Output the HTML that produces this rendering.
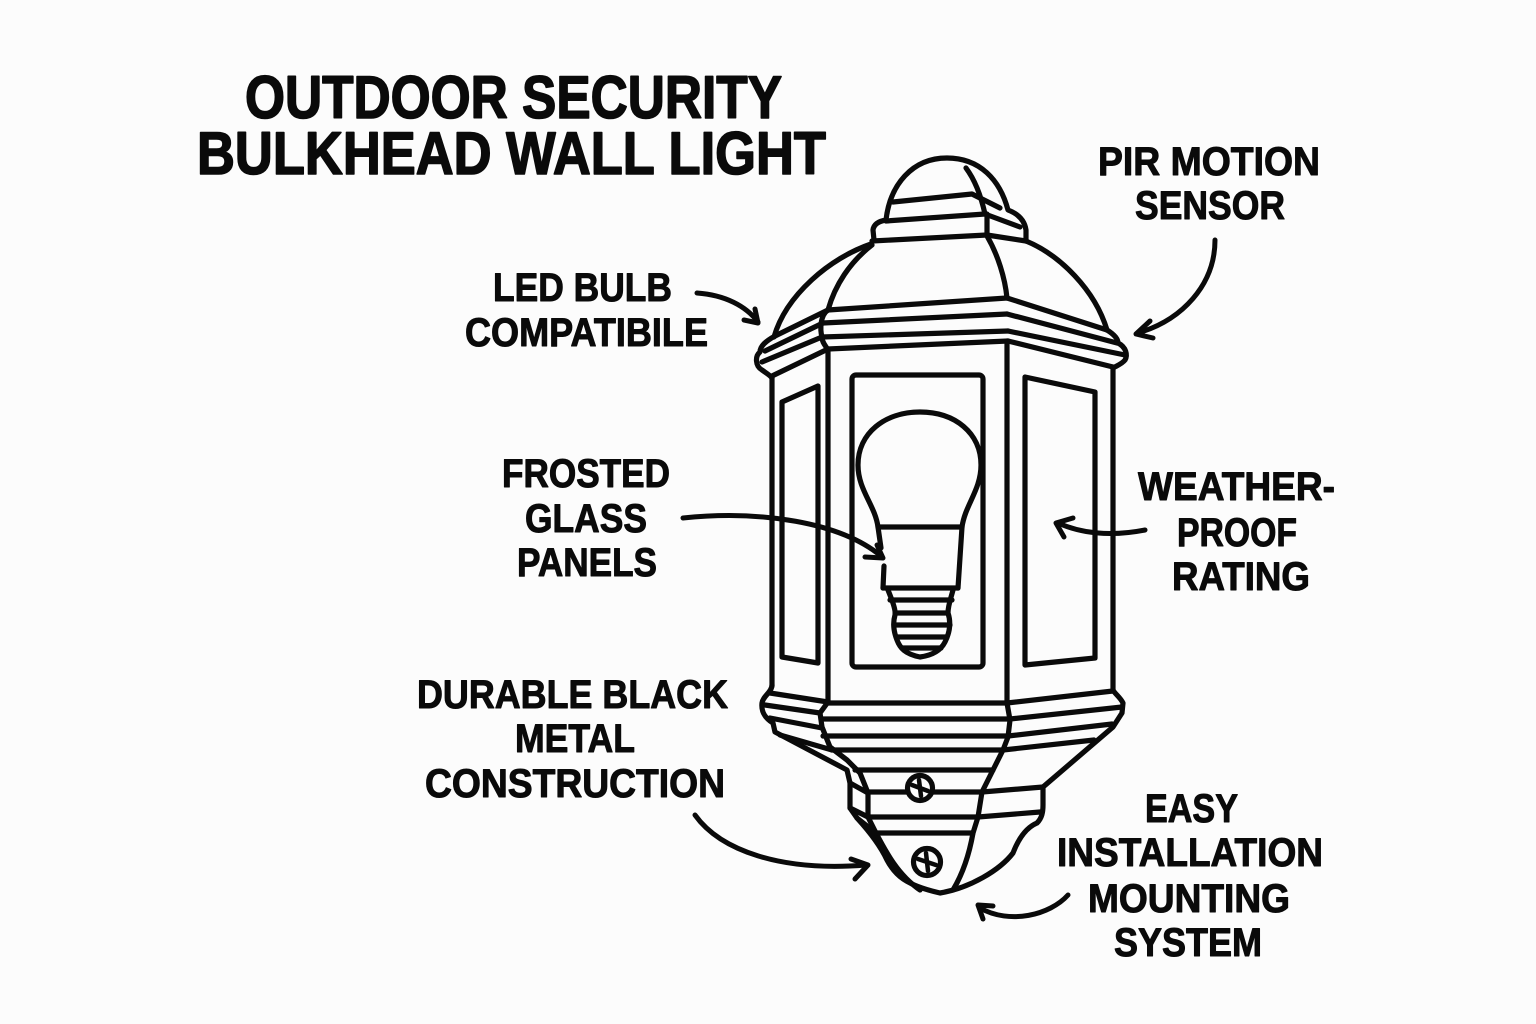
<!DOCTYPE html>
<html>
<head>
<meta charset="utf-8">
<style>
  html, body { margin: 0; padding: 0; background: #fcfcfc; }
  body { width: 1536px; height: 1024px; overflow: hidden; }
  svg { display: block; }
  .t { font-family: "Liberation Sans", "DejaVu Sans", sans-serif; font-weight: bold; fill: #0a0a0a; stroke: #0a0a0a; stroke-linejoin: round; }
</style>
</head>
<body>
<svg width="1536" height="1024" viewBox="0 0 1536 1024" xmlns="http://www.w3.org/2000/svg">
  <rect width="1536" height="1024" fill="#fcfcfc"/>

  <!-- Title -->
  <g class="t" stroke-width="1.6">
    <text x="245" y="118" font-size="60" textLength="537" lengthAdjust="spacingAndGlyphs">OUTDOOR SECURITY</text>
    <text x="197" y="174" font-size="60" textLength="629" lengthAdjust="spacingAndGlyphs">BULKHEAD WALL LIGHT</text>
  </g>

  <!-- Labels -->
  <g class="t" font-size="40" stroke-width="1">
    <text x="1098" y="175" textLength="222" lengthAdjust="spacingAndGlyphs">PIR MOTION</text>
    <text x="1135" y="219" textLength="150" lengthAdjust="spacingAndGlyphs">SENSOR</text>

    <text x="493" y="301" textLength="179" lengthAdjust="spacingAndGlyphs">LED BULB</text>
    <text x="465" y="346" textLength="243" lengthAdjust="spacingAndGlyphs">COMPATIBILE</text>

    <text x="502" y="487" textLength="168" lengthAdjust="spacingAndGlyphs">FROSTED</text>
    <text x="525" y="532" textLength="122" lengthAdjust="spacingAndGlyphs">GLASS</text>
    <text x="517" y="576" textLength="140" lengthAdjust="spacingAndGlyphs">PANELS</text>

    <text x="1138" y="500" textLength="197" lengthAdjust="spacingAndGlyphs">WEATHER-</text>
    <text x="1177" y="546" textLength="120" lengthAdjust="spacingAndGlyphs">PROOF</text>
    <text x="1172" y="590" textLength="138" lengthAdjust="spacingAndGlyphs">RATING</text>

    <text x="417" y="708" textLength="311" lengthAdjust="spacingAndGlyphs">DURABLE BLACK</text>
    <text x="515" y="752" textLength="120" lengthAdjust="spacingAndGlyphs">METAL</text>
    <text x="425" y="797" textLength="300" lengthAdjust="spacingAndGlyphs">CONSTRUCTION</text>

    <text x="1145" y="822" textLength="93" lengthAdjust="spacingAndGlyphs">EASY</text>
    <text x="1057" y="866" textLength="266" lengthAdjust="spacingAndGlyphs">INSTALLATION</text>
    <text x="1088" y="912" textLength="202" lengthAdjust="spacingAndGlyphs">MOUNTING</text>
    <text x="1114" y="956" textLength="148" lengthAdjust="spacingAndGlyphs">SYSTEM</text>
  </g>

  <!-- Lamp drawing -->
  <g fill="none" stroke="#0a0a0a" stroke-width="5.2" stroke-linecap="round" stroke-linejoin="round">
    <!-- Finial cap -->
    <path d="M 874 240 L 873 230 Q 874 222 886 220 C 890 185 912 158 947 158 C 980 158 1000 180 1008 210 Q 1024 216 1026 230 L 1026 241"/>
    <path d="M 966 168 C 975 180 981 196 985 214"/>
    <path d="M 893 202 L 972 194 L 1000 208"/>
    <path d="M 886 221 L 985 214 L 1020 227"/>
    <path d="M 987 214 L 987 235"/>
    <path d="M 872 241 L 987 235 L 1026 241"/>

    <!-- Main dome -->
    <path d="M 871 244 C 830 258 786 295 774 337"/>
    <path d="M 872 245 C 850 262 835 285 828 310"/>
    <path d="M 987 236 C 998 255 1005 278 1007 298"/>
    <path d="M 1026 241 C 1060 255 1095 290 1107 330"/>

    <!-- Upper cornice front -->
    <path d="M 828 310 L 1007 298"/>
    <path d="M 823 323 L 1007 314"/>
    <path d="M 822 337 L 1008 331"/>
    <path d="M 828 349 L 1008 341"/>
    <path d="M 828 310 C 820 315 820 330 822 337 C 822 343 826 346 828 350"/>
    <!-- Upper cornice left -->
    <path d="M 828 310 L 775 336"/>
    <path d="M 823 323 L 765 351"/>
    <path d="M 822 337 L 762 362"/>
    <path d="M 828 349 L 772 376"/>
    <path d="M 775 336 C 766 341 760 346 760 352 C 755 356 755 366 762 370 C 766 373 770 375 772 378"/>
    <!-- Upper cornice right -->
    <path d="M 1007 298 L 1107 330"/>
    <path d="M 1007 314 L 1117 343"/>
    <path d="M 1008 331 L 1125 355"/>
    <path d="M 1008 341 L 1113 367"/>
    <path d="M 1107 330 C 1115 335 1118 339 1118 343 C 1126 347 1128 355 1125 360 C 1122 364 1116 366 1113 368"/>

    <!-- Body verticals -->
    <path d="M 772 377 L 772 686"/>
    <path d="M 828 350 L 828 702"/>
    <path d="M 1007 341 L 1007 703"/>
    <path d="M 1113 367 L 1113 690"/>

    <!-- Panels -->
    <path d="M 782 402 L 818 386 L 818 663 L 782 657 Z"/>
    <rect x="852" y="375" width="131" height="292" rx="4"/>
    <path d="M 1025 377 L 1095 392 L 1095 658 L 1025 665 Z"/>

    <!-- Bulb -->
    <path d="M 878 527 C 875 505 858 490 858 465 C 858 433 885 412 920 412 C 955 412 981 433 981 465 C 981 490 965 505 962 527"/>
    <path d="M 878 527 L 962 527"/>
    <path d="M 878 527 L 881 548"/>
    <path d="M 884 566 L 883 588"/>
    <path d="M 962 527 L 958 588"/>
    <path d="M 883 588 L 958 588"/>
    <path d="M 888 590 C 892 600 896 610 895 615 C 893 622 893 630 897 640 C 900 648 905 654 920 657 C 935 655 942 648 945 642 C 950 632 951 622 948 613 C 948 605 951 598 953 590"/>
    <path d="M 890 600 L 952 600"/>
    <path d="M 895 613 L 948 613"/>
    <path d="M 894 625 L 950 625"/>
    <path d="M 897 637 L 947 637"/>
    <path d="M 902 648 L 941 648"/>

    <!-- Lower section outer profile -->
    <path d="M 772 685 C 772 692 763 696 762 703 C 761 712 765 718 773 723 L 775 732 L 847 770 L 850 783 L 850 808 L 857 818 C 868 830 880 845 887 860 C 895 875 905 885 940 893 C 970 888 1000 870 1013 853 C 1018 840 1025 828 1037 823 C 1042 818 1043 812 1043 805 L 1043 787 L 1113 727 L 1122 713 L 1123 703 C 1120 697 1115 694 1113 690"/>
    <!-- Lower inner edges -->
    <path d="M 828 702 L 820 713 L 822 727 L 830 747 L 847 760 L 860 773 L 868 793 L 868 817 L 876 833 C 886 852 898 875 920 890"/>
    <path d="M 1007 703 L 1010 720 L 1008 737 L 1003 750 L 993 770 L 982 792 L 978 817 L 973 833 C 970 850 965 870 953 890"/>
    <!-- Lower front lines -->
    <path d="M 828 703 L 1007 703"/>
    <path d="M 821 719 L 1010 719"/>
    <path d="M 823 736 L 1008 736"/>
    <path d="M 832 750 L 1003 750"/>
    <path d="M 855 770 L 993 770"/>
    <path d="M 868 792 L 982 792"/>
    <path d="M 870 817 L 978 817"/>
    <path d="M 877 833 L 973 833"/>
    <!-- Lower left side lines -->
    <path d="M 770 693 L 828 702"/>
    <path d="M 765 705 L 820 713"/>
    <path d="M 770 718 L 822 728"/>
    <path d="M 780 735 L 832 750"/>
    <path d="M 850 783 L 868 793"/>
    <path d="M 850 808 L 868 817"/>
    <path d="M 857 818 L 876 833"/>
    <!-- Lower right side lines -->
    <path d="M 1007 703 L 1113 691"/>
    <path d="M 1010 719 L 1122 707"/>
    <path d="M 1008 736 L 1112 724"/>
    <path d="M 1003 750 L 1094 740"/>
    <path d="M 982 792 L 1043 787"/>
    <path d="M 978 817 L 1040 812"/>

    <!-- Screws -->
    <circle cx="920" cy="788" r="12.5" fill="#fcfcfc"/>
    <path d="M 912 785 L 928 791 M 919 780 L 921 796" stroke-width="4.5"/>
    <circle cx="927" cy="862" r="13.5" fill="#fcfcfc"/>
    <path d="M 918 859 L 936 865 M 926 853 L 928 871" stroke-width="4.5"/>
  </g>

  <!-- Arrows -->
  <g fill="none" stroke="#0a0a0a" stroke-width="5" stroke-linecap="round" stroke-linejoin="round">
    <!-- LED -->
    <path d="M 697 293 C 725 295 746 306 758 322"/>
    <path d="M 744 320 L 758 323 L 755 309"/>
    <!-- PIR -->
    <path d="M 1215 240 C 1215 285 1182 320 1138 333"/>
    <path d="M 1150 321 L 1136 334 L 1153 338"/>
    <!-- Frosted -->
    <path d="M 683 518 C 760 510 840 522 881 556"/>
    <path d="M 865 557 L 883 558 L 877 545"/>
    <!-- Weather -->
    <path d="M 1145 530 C 1110 537 1080 533 1058 523"/>
    <path d="M 1073 518 L 1056 523 L 1064 537"/>
    <!-- Durable -->
    <path d="M 695 815 C 720 850 780 872 866 865"/>
    <path d="M 851 859 L 868 865 L 855 879"/>
    <!-- Easy -->
    <path d="M 1068 895 C 1050 915 1010 925 980 908"/>
    <path d="M 993 906 L 978 905 L 983 919"/>
  </g>
</svg>
</body>
</html>
